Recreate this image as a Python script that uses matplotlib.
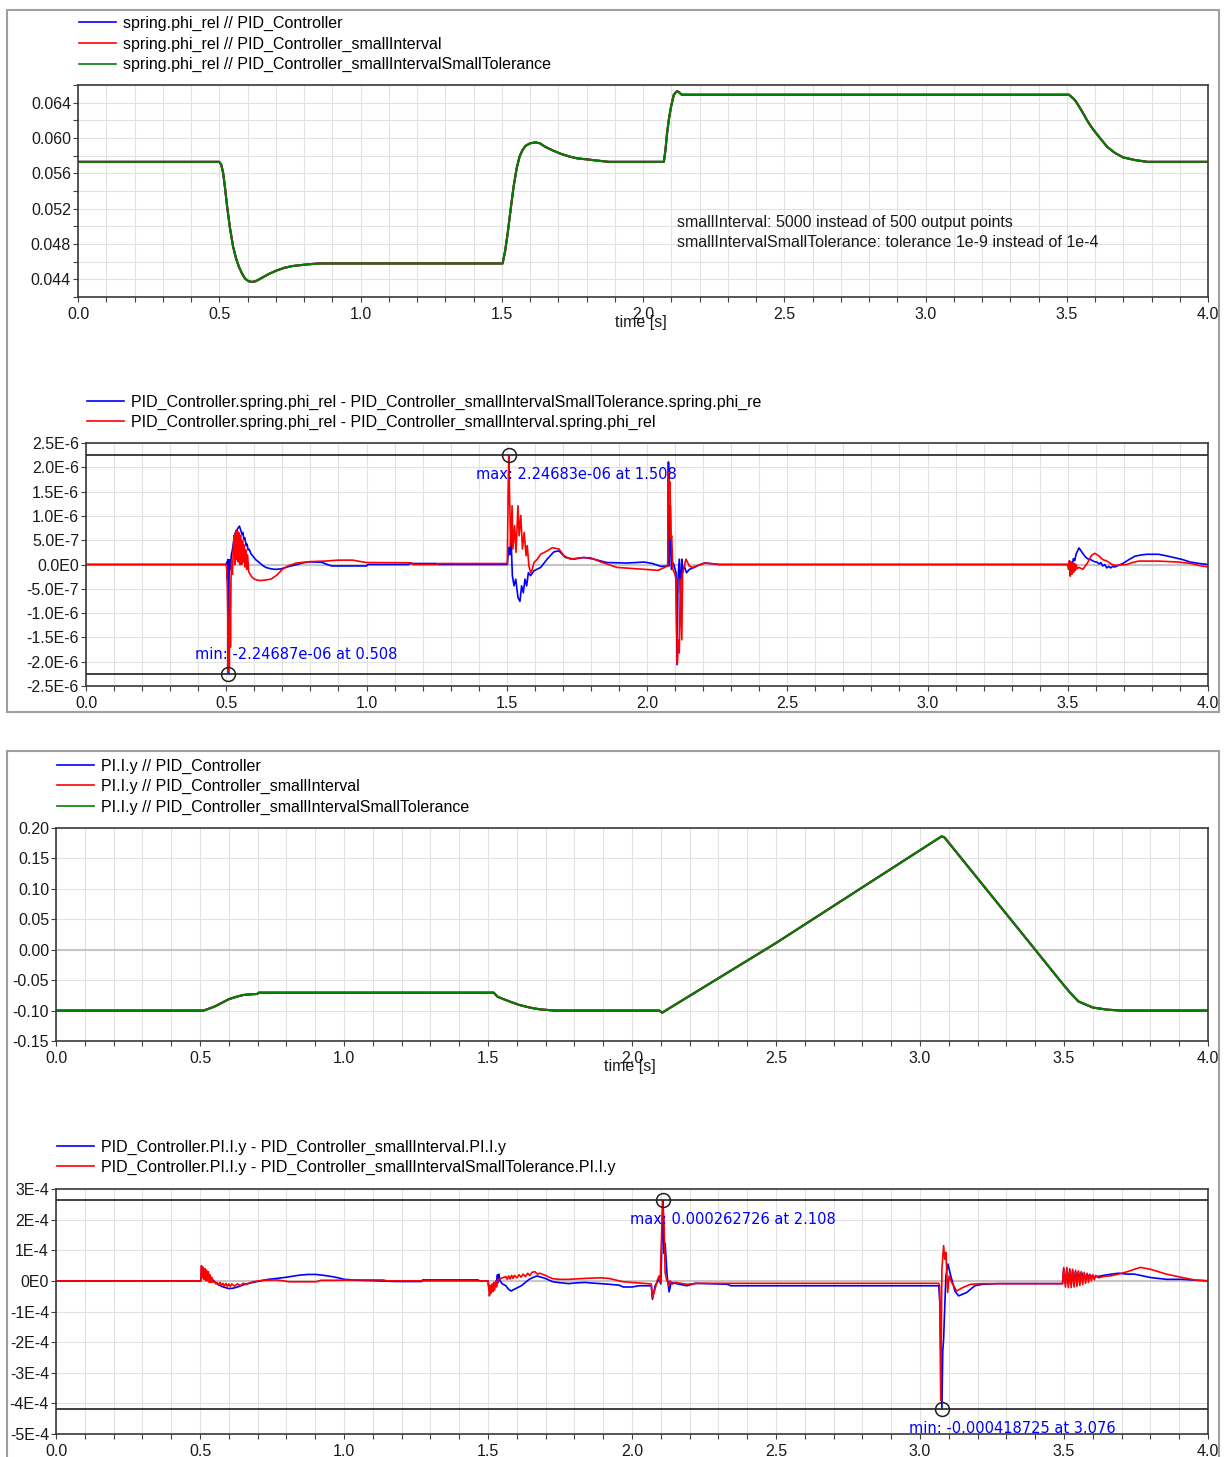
import matplotlib
matplotlib.use("Agg")
import matplotlib.pyplot as plt
from matplotlib.lines import Line2D
from matplotlib.patches import Rectangle
from matplotlib.ticker import MultipleLocator, FormatStrFormatter
import numpy as np

plt.rcParams['font.family'] = ['Liberation Sans', 'DejaVu Sans']

W, H = 1226, 1457

# ---------------- data ----------------
# spring.phi_rel, the three runs lie on top of each other
phi_rel = [
    (0.0, 0.0573), (0.5, 0.0573), (0.507, 0.0570), (0.514, 0.0560), (0.521, 0.0542),
    (0.528, 0.0522), (0.538, 0.0498), (0.549, 0.0477), (0.560, 0.0463), (0.570, 0.0454),
    (0.580, 0.0447), (0.591, 0.0441), (0.603, 0.0438), (0.616, 0.0437), (0.630, 0.0438),
    (0.647, 0.0441), (0.675, 0.0446), (0.703, 0.0450), (0.730, 0.0453), (0.758, 0.0455),
    (0.786, 0.0456), (0.814, 0.0457), (0.856, 0.0458), (1.503, 0.0458), (1.512, 0.0472),
    (1.521, 0.0492), (1.531, 0.0518), (1.542, 0.0545), (1.553, 0.0566), (1.563, 0.0579),
    (1.573, 0.0586), (1.584, 0.0591), (1.600, 0.0594), (1.620, 0.0595), (1.635, 0.0594),
    (1.654, 0.0590), (1.680, 0.0586), (1.710, 0.0582), (1.740, 0.0579), (1.766, 0.0577),
    (1.795, 0.0576), (1.822, 0.0575), (1.850, 0.0574), (1.878, 0.0573), (2.074, 0.0573),
    (2.080, 0.0588), (2.085, 0.0605), (2.092, 0.0622), (2.099, 0.0635), (2.109, 0.0649),
    (2.120, 0.0653), (2.127, 0.0652), (2.137, 0.0649), (2.146, 0.0649), (3.508, 0.0649),
    (3.529, 0.0643), (3.543, 0.0636), (3.558, 0.0628), (3.572, 0.0620), (3.586, 0.0613),
    (3.600, 0.0607), (3.615, 0.0601), (3.643, 0.0590), (3.671, 0.0583), (3.700, 0.0578),
    (3.742, 0.0575), (3.785, 0.0573), (4.0, 0.0573),
]

# PI.I.y, the three runs lie on top of each other
pi_y = [
    (0.0, -0.100), (0.512, -0.100), (0.53, -0.097), (0.55, -0.0935), (0.575, -0.0875),
    (0.599, -0.0815), (0.625, -0.0775), (0.65, -0.0744), (0.675, -0.0733), (0.699, -0.0727),
    (0.704, -0.0706), (1.52, -0.0706), (1.533, -0.0772), (1.558, -0.0820), (1.583, -0.0865),
    (1.607, -0.0905), (1.632, -0.0936), (1.657, -0.0962), (1.681, -0.0980), (1.732, -0.1000),
    (2.095, -0.1000), (2.105, -0.1035), (2.12, -0.0990), (2.5, 0.0110), (2.8, 0.1025),
    (3.075, 0.1863), (3.085, 0.1845), (3.40, 0.0), (3.485, -0.050), (3.52, -0.070),
    (3.55, -0.085), (3.60, -0.095), (3.65, -0.0985), (3.70, -0.100), (4.0, -0.100),
]

# phi_rel differences, values in 1e-7 rad
phi_diff_tol = [
    (0.0, 0), (0.5, 0), (0.502, 0.5), (0.504, -3.0), (0.506, 1.0), (0.508, -22.4687),
    (0.510, -2.0), (0.512, 1.0), (0.515, -1.0), (0.518, 2.0), (0.522, 3.0), (0.527, 5.0),
    (0.532, 6.5), (0.537, 7.0), (0.542, 7.5), (0.547, 7.9), (0.552, 7.0), (0.556, 6.2),
    (0.559, 6.6), (0.563, 5.2), (0.566, 5.5), (0.571, 3.9), (0.574, 4.2), (0.578, 3.0),
    (0.582, 3.1), (0.588, 2.2), (0.594, 1.8), (0.605, 1.0), (0.618, 0.4), (0.630, -0.2),
    (0.641, -0.6), (0.660, -0.9), (0.676, -1.0), (0.695, -0.9), (0.712, -0.6), (0.730, -0.3),
    (0.747, -0.1), (0.770, 0.3), (0.794, 0.55), (0.820, 0.5), (0.841, 0.45), (0.860, 0.0),
    (0.876, -0.3), (1.0, -0.3), (1.005, 0.0), (1.15, 0.0), (1.155, 0.2), (1.25, 0.2),
    (1.255, 0.0), (1.502, 0.0), (1.507, 3.5), (1.511, 2.0), (1.515, 6.0), (1.520, -2.3),
    (1.526, -4.4), (1.532, -3.0), (1.540, -6.8), (1.547, -7.6), (1.553, -4.4), (1.559, -5.8),
    (1.565, -3.0), (1.571, -4.4), (1.577, -1.7), (1.585, -2.3), (1.597, -1.3), (1.621, -0.6),
    (1.644, 1.1), (1.668, 2.6), (1.686, 2.8), (1.709, 1.45), (1.739, 1.1), (1.775, 1.45),
    (1.810, 1.1), (1.857, 0.4), (1.928, 0.3), (1.990, 0.5), (2.020, 0.2), (2.050, -0.4),
    (2.074, -0.3), (2.0765, 21.1), (2.079, -0.3), (2.0835, 12.1), (2.087, -1.0), (2.094, 0.3),
    (2.1035, -1.7), (2.107, -20.6), (2.1105, -3.0), (2.115, 1.1), (2.119, -5.8), (2.124, 1.1),
    (2.127, -1.7), (2.133, -0.3), (2.141, -1.7), (2.151, -1.0), (2.168, -0.6), (2.186, -0.1),
    (2.204, 0.3), (2.245, 0.1), (2.256, 0.0), (3.5, 0.0), (3.505, -0.8), (3.510, 0.6),
    (3.515, -0.5), (3.520, 1.2), (3.525, 0.8), (3.530, 2.2), (3.540, 3.4), (3.550, 2.6),
    (3.561, 1.7), (3.570, 1.2), (3.582, 1.0), (3.594, 0.6), (3.604, 0.5), (3.612, 0.1),
    (3.618, 0.4), (3.625, -0.3), (3.632, 0.0), (3.639, -0.7), (3.646, -0.4), (3.653, -0.7),
    (3.660, -0.4), (3.668, -0.5), (3.680, -0.2), (3.696, 0.2), (3.718, 1.0), (3.739, 1.7),
    (3.760, 1.95), (3.781, 2.1), (3.824, 2.1), (3.850, 1.8), (3.881, 1.4), (3.910, 1.0),
    (3.937, 0.5), (3.970, 0.2), (4.0, 0.0),
]
phi_diff_int = [
    (0.0, 0), (0.5, 0), (0.502, -1.0), (0.504, -5.0), (0.506, -12.0), (0.507, -22.0),
    (0.509, -15.0), (0.511, -21.0), (0.513, -4.0), (0.515, -17.0), (0.517, -3.0), (0.519, 0.5),
    (0.522, -2.0), (0.525, 3.0), (0.528, 6.0), (0.531, 0.0), (0.534, 7.0), (0.537, 1.0),
    (0.540, 7.0), (0.543, 0.5), (0.546, 6.5), (0.549, 0.0), (0.552, 6.0), (0.555, 0.0),
    (0.558, 5.0), (0.561, 0.5), (0.564, 4.0), (0.567, -0.5), (0.570, 3.0), (0.573, -1.0),
    (0.576, 2.0), (0.580, -1.5), (0.590, -2.5), (0.600, -3.0), (0.610, -3.2), (0.620, -3.3),
    (0.640, -3.2), (0.660, -3.0), (0.680, -2.2), (0.700, -1.0), (0.720, -0.3), (0.750, 0.3),
    (0.800, 0.6), (0.850, 0.7), (0.900, 0.9), (0.950, 0.9), (0.970, 0.7), (1.000, 0.4),
    (1.160, 0.35), (1.165, 0.0), (1.250, 0.0), (1.255, 0.2), (1.502, 0.2), (1.505, 15.0),
    (1.508, 22.4683), (1.5095, 15.6), (1.514, 3.9), (1.519, 12.1), (1.522, 3.2), (1.528, 8.0),
    (1.533, 2.5), (1.540, 12.1), (1.544, 5.9), (1.550, 10.1), (1.556, 3.2), (1.562, 6.6),
    (1.569, 1.8), (1.573, 3.9), (1.579, -0.3), (1.585, -1.7), (1.591, -1.0), (1.597, 0.4),
    (1.609, 1.1), (1.621, 2.1), (1.644, 2.8), (1.662, 3.45), (1.686, 3.2), (1.704, 1.8),
    (1.727, 1.1), (1.763, 1.4), (1.798, 1.4), (1.834, 0.55), (1.893, -0.6), (1.988, -1.0),
    (2.040, -1.2), (2.074, -0.3), (2.0765, 19.0), (2.080, 16.3), (2.082, 17.0), (2.085, 5.2),
    (2.088, 5.9), (2.092, -1.0), (2.098, -1.7), (2.1035, -3.0), (2.108, -20.3), (2.112, -15.5),
    (2.115, -18.2), (2.119, -3.0), (2.124, -15.5), (2.127, -1.7), (2.133, -0.3), (2.139, 1.1),
    (2.145, 0.4), (2.151, -0.3), (2.162, -0.6), (2.186, -0.1), (2.209, 0.3), (2.245, 0.1),
    (2.256, 0.0), (3.5, 0.0), (3.503, -1.0), (3.506, 0.8), (3.509, -2.4), (3.512, 0.5),
    (3.515, -2.0), (3.518, 0.3), (3.521, -1.6), (3.524, 0.2), (3.527, -1.2), (3.530, 0.0),
    (3.533, -0.9), (3.540, -0.6), (3.554, -1.0), (3.570, 0.3), (3.585, 1.9), (3.597, 2.3),
    (3.610, 1.8), (3.625, 1.0), (3.640, 0.7), (3.655, 0.1), (3.668, -0.2), (3.690, -0.1),
    (3.710, 0.0), (3.730, 0.4), (3.753, 0.7), (3.824, 0.7), (3.895, 0.5), (3.940, 0.2),
    (3.967, -0.2), (4.0, -0.5),
]

# PI.I.y differences, values in 1e-4
pi_diff_int = [
    (0.0, 0), (0.5, 0), (0.503, 0.0), (0.505, 0.42), (0.510, 0.35), (0.519, 0.27),
    (0.530, 0.15), (0.540, 0.07), (0.550, -0.02), (0.560, -0.10), (0.575, -0.18),
    (0.588, -0.22), (0.600, -0.25), (0.615, -0.24), (0.630, -0.20), (0.642, -0.16),
    (0.660, -0.10), (0.684, -0.05), (0.710, 0.0), (0.738, 0.05), (0.765, 0.08), (0.793, 0.11),
    (0.820, 0.15), (0.848, 0.19), (0.875, 0.21), (0.903, 0.21), (0.930, 0.18), (0.958, 0.14),
    (0.980, 0.10), (1.0, 0.05), (1.05, 0.02), (1.122, 0.0), (1.177, -0.02), (1.270, -0.02),
    (1.273, 0.03), (1.466, 0.03), (1.470, 0.0), (1.500, 0.0), (1.502, -0.2), (1.506, -0.35),
    (1.510, -0.2), (1.515, -0.3), (1.520, -0.15), (1.525, -0.1), (1.530, 0.0), (1.533, 0.2),
    (1.535, -0.05), (1.538, 0.22), (1.542, 0.0), (1.550, -0.1), (1.562, -0.16), (1.572, -0.28),
    (1.580, -0.33), (1.590, -0.28), (1.603, -0.22), (1.617, -0.15), (1.630, -0.05),
    (1.643, 0.05), (1.656, 0.11), (1.670, 0.16), (1.685, 0.12), (1.699, 0.08), (1.713, 0.02),
    (1.726, -0.03), (1.750, -0.06), (1.781, -0.09), (1.800, -0.07), (1.836, -0.05),
    (1.860, -0.07), (1.890, -0.09), (1.920, -0.11), (1.955, -0.14), (1.970, -0.20),
    (2.000, -0.20), (2.025, -0.16), (2.067, -0.16), (2.071, -0.60), (2.080, -0.16),
    (2.094, 0.05), (2.100, -0.10), (2.108, 2.62726), (2.111, 0.90), (2.115, 1.23),
    (2.122, 0.16), (2.129, -0.36), (2.136, -0.05), (2.164, -0.11), (2.190, -0.16),
    (2.220, -0.08), (2.330, -0.11), (2.344, -0.16), (3.065, -0.16), (3.069, -0.70),
    (3.076, -4.18725), (3.079, -2.3), (3.082, -1.9), (3.086, -0.8), (3.090, 0.16),
    (3.097, 0.55), (3.107, 0.16), (3.121, -0.33), (3.134, -0.49), (3.162, -0.38),
    (3.190, -0.16), (3.218, -0.11), (3.273, -0.09), (3.495, -0.09), (3.499, 0.40),
    (3.505, -0.10), (3.510, 0.38), (3.515, -0.12), (3.520, 0.35), (3.525, -0.10),
    (3.530, 0.33), (3.535, -0.05), (3.540, 0.30), (3.545, 0.0), (3.550, 0.30), (3.555, 0.05),
    (3.560, 0.28), (3.570, 0.08), (3.580, 0.22), (3.590, 0.10), (3.600, 0.18), (3.606, 0.12),
    (3.620, 0.15), (3.650, 0.20), (3.689, 0.25), (3.720, 0.22), (3.745, 0.22), (3.800, 0.11),
    (3.856, 0.05), (3.910, 0.05), (3.960, 0.02), (4.0, 0.0),
]
pi_diff_tol = [
    (0.0, 0), (0.5, 0), (0.503, 0.0), (0.505, 0.50), (0.508, 0.10), (0.511, 0.45),
    (0.514, 0.05), (0.517, 0.40), (0.520, 0.0), (0.523, 0.35), (0.526, 0.0), (0.529, 0.30),
    (0.532, -0.05), (0.535, 0.20), (0.538, -0.05), (0.541, 0.12), (0.545, -0.05),
    (0.550, -0.02), (0.555, -0.10), (0.560, -0.05), (0.565, -0.15), (0.570, -0.05),
    (0.575, -0.15), (0.580, -0.08), (0.585, -0.17), (0.590, -0.08), (0.595, -0.18),
    (0.600, -0.10), (0.605, -0.18), (0.610, -0.10), (0.620, -0.17), (0.630, -0.10),
    (0.640, -0.15), (0.650, -0.08), (0.660, -0.12), (0.684, -0.03), (0.720, 0.02),
    (0.766, 0.03), (0.790, 0.0), (0.810, -0.03), (0.903, -0.03), (0.920, 0.02), (0.970, 0.02),
    (1.040, 0.03), (1.135, 0.03), (1.150, 0.0), (1.500, 0.0), (1.502, -0.10), (1.505, -0.49),
    (1.508, -0.15), (1.511, -0.40), (1.514, -0.10), (1.517, -0.35), (1.520, -0.05),
    (1.523, -0.30), (1.527, 0.0), (1.530, -0.20), (1.535, 0.05), (1.540, 0.05), (1.550, 0.10),
    (1.562, 0.14), (1.567, 0.05), (1.572, 0.16), (1.577, 0.06), (1.582, 0.18), (1.587, 0.08),
    (1.592, 0.18), (1.600, 0.10), (1.608, 0.20), (1.615, 0.12), (1.622, 0.22), (1.630, 0.14),
    (1.638, 0.25), (1.645, 0.17), (1.653, 0.28), (1.663, 0.30), (1.672, 0.22), (1.680, 0.25),
    (1.699, 0.18), (1.712, 0.12), (1.726, 0.07), (1.750, 0.05), (1.781, 0.05), (1.836, 0.08),
    (1.890, 0.10), (1.920, 0.08), (1.970, -0.03), (2.000, -0.05), (2.067, -0.10),
    (2.071, -0.55), (2.080, -0.27), (2.087, 0.0), (2.094, 0.16), (2.098, -0.05), (2.106, 2.60),
    (2.111, 2.00), (2.115, 0.27), (2.120, 0.05), (2.128, -0.16), (2.132, 0.0), (2.139, -0.11),
    (2.150, -0.05), (2.190, -0.11), (2.233, -0.08), (3.065, -0.08), (3.068, -0.16),
    (3.072, -3.90), (3.076, 0.38), (3.082, 1.15), (3.086, 0.71), (3.090, 0.93), (3.096, -0.38),
    (3.101, 0.16), (3.110, -0.05), (3.127, -0.33), (3.148, -0.22), (3.176, -0.11),
    (3.218, -0.09), (3.495, -0.09), (3.499, 0.44), (3.505, -0.20), (3.510, 0.44),
    (3.515, -0.22), (3.520, 0.40), (3.525, -0.22), (3.530, 0.38), (3.535, -0.20), (3.540, 0.35),
    (3.545, -0.18), (3.550, 0.32), (3.555, -0.15), (3.560, 0.30), (3.565, -0.12), (3.570, 0.28),
    (3.575, -0.08), (3.580, 0.25), (3.585, -0.05), (3.590, 0.22), (3.595, 0.0), (3.600, 0.20),
    (3.605, 0.03), (3.610, 0.18), (3.620, 0.10), (3.640, 0.15), (3.660, 0.16), (3.689, 0.22),
    (3.720, 0.30), (3.745, 0.38), (3.765, 0.44), (3.800, 0.38), (3.856, 0.22), (3.910, 0.11),
    (3.954, 0.03), (4.0, 0.0),
]

# extremes marked by the plot tool (time, value)
phi_max = (1.508, 2.24683e-06)
phi_min = (0.508, -2.24687e-06)
pi_max = (2.108, 0.000262726)
pi_min = (3.076, -0.000418725)

phi_labels = ['spring.phi_rel // PID_Controller',
              'spring.phi_rel // PID_Controller_smallInterval',
              'spring.phi_rel // PID_Controller_smallIntervalSmallTolerance']
phi_diff_labels = ['PID_Controller.spring.phi_rel - PID_Controller_smallIntervalSmallTolerance.spring.phi_re',
                   'PID_Controller.spring.phi_rel - PID_Controller_smallInterval.spring.phi_rel']
pi_labels = ['PI.I.y // PID_Controller',
             'PI.I.y // PID_Controller_smallInterval',
             'PI.I.y // PID_Controller_smallIntervalSmallTolerance']
pi_diff_labels = ['PID_Controller.PI.I.y - PID_Controller_smallInterval.PI.I.y',
                  'PID_Controller.PI.I.y - PID_Controller_smallIntervalSmallTolerance.PI.I.y']
note_lines = ['smallInterval: 5000 instead of 500 output points',
              'smallIntervalSmallTolerance: tolerance 1e-9 instead of 1e-4']

phi_ticks = [0.044, 0.048, 0.052, 0.056, 0.060, 0.064]
phi_ticklabels = ['0.044', '0.048', '0.052', '0.056', '0.060', '0.064']
phi_diff_ticks = [-2.5e-6, -2.0e-6, -1.5e-6, -1.0e-6, -5e-7, 0, 5e-7, 1.0e-6, 1.5e-6, 2.0e-6, 2.5e-6]
phi_diff_ticklabels = ['-2.5E-6', '-2.0E-6', '-1.5E-6', '-1.0E-6', '-5.0E-7', '0.0E0',
                       '5.0E-7', '1.0E-6', '1.5E-6', '2.0E-6', '2.5E-6']
pi_ticks = [-0.15, -0.10, -0.05, 0.0, 0.05, 0.10, 0.15, 0.20]
pi_ticklabels = ['-0.15', '-0.10', '-0.05', '0.00', '0.05', '0.10', '0.15', '0.20']
pi_diff_ticks = [-5e-4, -4e-4, -3e-4, -2e-4, -1e-4, 0, 1e-4, 2e-4, 3e-4]
pi_diff_ticklabels = ['-5E-4', '-4E-4', '-3E-4', '-2E-4', '-1E-4', '0E0', '1E-4', '2E-4', '3E-4']

BLUE, RED, GREEN = '#0000ff', '#ff0000', '#008000'
FS = 11.5

fig = plt.figure(figsize=(W / 100, H / 100), dpi=100)


def make_axes(l, t, r, b):
    return fig.add_axes([l / W, 1 - b / H, (r - l) / W, (b - t) / H])


def style(ax, ylim, ticks, labels, yminor=None):
    ax.set_xlim(0, 4)
    ax.set_ylim(*ylim)
    ax.xaxis.set_major_locator(MultipleLocator(0.5))
    ax.xaxis.set_minor_locator(MultipleLocator(0.1))
    ax.xaxis.set_major_formatter(FormatStrFormatter('%.1f'))
    ax.set_yticks(ticks)
    ax.set_yticklabels(labels)
    if yminor:
        ax.yaxis.set_minor_locator(MultipleLocator(yminor))
    ax.grid(which='both', color='#e2e2e2', lw=0.8)
    ax.set_axisbelow(True)
    ax.tick_params(which='both', direction='out', length=3.5, width=0.8, color='#404040',
                   labelsize=FS, labelcolor='#1a1a1a', pad=1.5)
    ax.tick_params(axis='x', pad=4)
    for s in ax.spines.values():
        s.set_color('#3a3a3a')
        s.set_linewidth(1.2)


def legend(ax, labels, colors, top_px):
    handles = [Line2D([], [], color=c, lw=1.2) for c in colors]
    ax.legend(handles, labels, loc='upper left', frameon=False, fontsize=FS,
              bbox_to_anchor=(ax.get_position().x0 + 1 / W, 1 - top_px / H),
              bbox_transform=fig.transFigure, handlelength=2.3, handletextpad=0.45,
              labelspacing=0.34, borderpad=0, borderaxespad=0)


def time_label(ax):
    ax.annotate('time [s]', xy=(0.5, 0), xycoords='axes fraction', xytext=(-2, -26),
                textcoords='offset pixels', ha='center', va='center', fontsize=FS,
                color='#1a1a1a')


def mark(ax, point, kind, dy):
    t, v = point
    ax.axhline(v, color='#303030', lw=1.3, zorder=3)
    ax.plot([t], [v], 'o', mfc='none', mec='#202020', ms=10, mew=1.1, zorder=5)
    ax.annotate(f'{kind}: {v:g} at {t:g}', xy=(t, v), xytext=(-33, dy),
                textcoords='offset pixels', ha='left', va='center', color=BLUE,
                fontsize=10.5, family='DejaVu Sans', zorder=6)


def series(data, scale=1.0):
    arr = np.array(data, dtype=float)
    return arr[:, 0], arr[:, 1] * scale


# ---------------- panel 1: spring.phi_rel ----------------
ax1 = make_axes(78, 85, 1208, 297)
t, v = series(phi_rel)
for c in (BLUE, RED, GREEN):
    ax1.plot(t, v, color=c, lw=1.5)
style(ax1, (0.042, 0.066), phi_ticks, phi_ticklabels, yminor=0.002)
legend(ax1, phi_labels, (BLUE, RED, GREEN), 16)
time_label(ax1)
ax1.text(0.530, 0.352, note_lines[0], transform=ax1.transAxes, fontsize=FS,
         va='center', color='#1a1a1a')
ax1.text(0.530, 0.258, note_lines[1], transform=ax1.transAxes, fontsize=FS,
         va='center', color='#1a1a1a')

# ---------------- panel 2: phi_rel differences ----------------
ax2 = make_axes(86, 443, 1208, 686)
ax2.axhline(0, color='#c6c6c6', lw=1.5, zorder=1)
t, v = series(phi_diff_tol, 1e-7)
ax2.plot(t, v, color=BLUE, lw=1.2)
t, v = series(phi_diff_int, 1e-7)
ax2.plot(t, v, color=RED, lw=1.2)
style(ax2, (-2.5e-6, 2.5e-6), phi_diff_ticks, phi_diff_ticklabels)
legend(ax2, phi_diff_labels, (BLUE, RED), 394.5)
mark(ax2, phi_max, 'max', -19)
mark(ax2, phi_min, 'min', 19)

# ---------------- panel 3: PI.I.y ----------------
ax3 = make_axes(56, 828, 1208, 1041)
ax3.axhline(0, color='#c6c6c6', lw=1.5, zorder=1)
t, v = series(pi_y)
for c in (BLUE, RED, GREEN):
    ax3.plot(t, v, color=c, lw=1.5)
style(ax3, (-0.15, 0.20), pi_ticks, pi_ticklabels)
legend(ax3, pi_labels, (BLUE, RED, GREEN), 758.5)
time_label(ax3)

# ---------------- panel 4: PI.I.y differences ----------------
ax4 = make_axes(56, 1189, 1208, 1434)
ax4.axhline(0, color='#c6c6c6', lw=1.5, zorder=1)
t, v = series(pi_diff_int, 1e-4)
ax4.plot(t, v, color=BLUE, lw=1.2)
t, v = series(pi_diff_tol, 1e-4)
ax4.plot(t, v, color=RED, lw=1.2)
style(ax4, (-5e-4, 3e-4), pi_diff_ticks, pi_diff_ticklabels)
legend(ax4, pi_diff_labels, (BLUE, RED), 1139.5)
mark(ax4, pi_max, 'max', -19)
mark(ax4, pi_min, 'min', -19)

# window frames
for (l, t0, r, b) in [(7, 10, 1219, 712), (7, 751, 1219, 1475)]:
    fig.add_artist(Rectangle((l / W, 1 - b / H), (r - l) / W, (b - t0) / H,
                             transform=fig.transFigure, fill=False, ec='#a0a0a0',
                             lw=1.5, zorder=10))

fig.savefig('out.png', dpi=100)
